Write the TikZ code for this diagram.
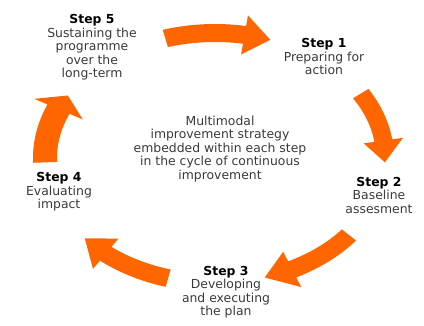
\documentclass[tikz,border=0pt]{standalone}
\usepackage{fontspec}
\setmainfont{DejaVu Sans}
\usepackage{tikz}
\definecolor{cycleorange}{HTML}{FF6600}
\definecolor{stepgray}{HTML}{3A3A3A}

\begin{document}
\begin{tikzpicture}
            [every node/.style={inner sep=0pt},
             steptext/.style={align=center, text=stepgray, font=\fontsize{12.4pt}{13.5pt}\selectfont},
             cyclearrow/.style={fill=cycleorange}]
                \useasboundingbox (0pt, 0pt) rectangle (424pt, -326pt);
                \begin{scope}[shift={(215pt, -158pt)}]
                    \foreach \a/\b/\c/\w in {107/80/71/9, 31/8/-2/9, -38/-63/-73/9, -106/-130/-140/9, 182/157/150/12}
                        \fill [cyclearrow] (\a:170pt+\w pt and 125pt+\w pt)
                            arc [start angle=\a, end angle=\b, x radius=170pt+\w pt, y radius=125pt+\w pt]
                            -- (\b:170pt+2.2*\w pt and 125pt+2.2*\w pt) -- (\c:170pt and 125pt)
                            -- (\b:170pt-2.2*\w pt and 125pt-2.2*\w pt) -- (\b:170pt-\w pt and 125pt-\w pt)
                            arc [start angle=\b, end angle=\a, x radius=170pt-\w pt, y radius=125pt-\w pt] -- cycle;
                \end{scope}
                \node (step5) [steptext] at (92pt, -47.6pt) {\textcolor{black}{\textbf{Step 5}}\\Sustaining the\\programme\\over the\\long-term};
                \node (step1) [steptext] at (324pt, -56.7pt) {\textcolor{black}{\textbf{Step 1}}\\Preparing for\\action};
                \node (step2) [steptext] at (379pt, -195pt) {\textcolor{black}{\textbf{Step 2}}\\Baseline\\assesment};
                \node (step3) [steptext] at (226pt, -292pt) {\textcolor{black}{\textbf{Step 3}}\\Developing\\and executing\\the plan};
                \node (step4) [steptext] at (59pt, -192pt) {\textcolor{black}{\textbf{Step 4}}\\Evaluating\\impact};
                \node (strategy) [steptext] at (220pt, -149pt) {Multimodal\\improvement strategy\\embedded within each step\\in the cycle of continuous\\improvement};
            \end{tikzpicture}
\end{document}
